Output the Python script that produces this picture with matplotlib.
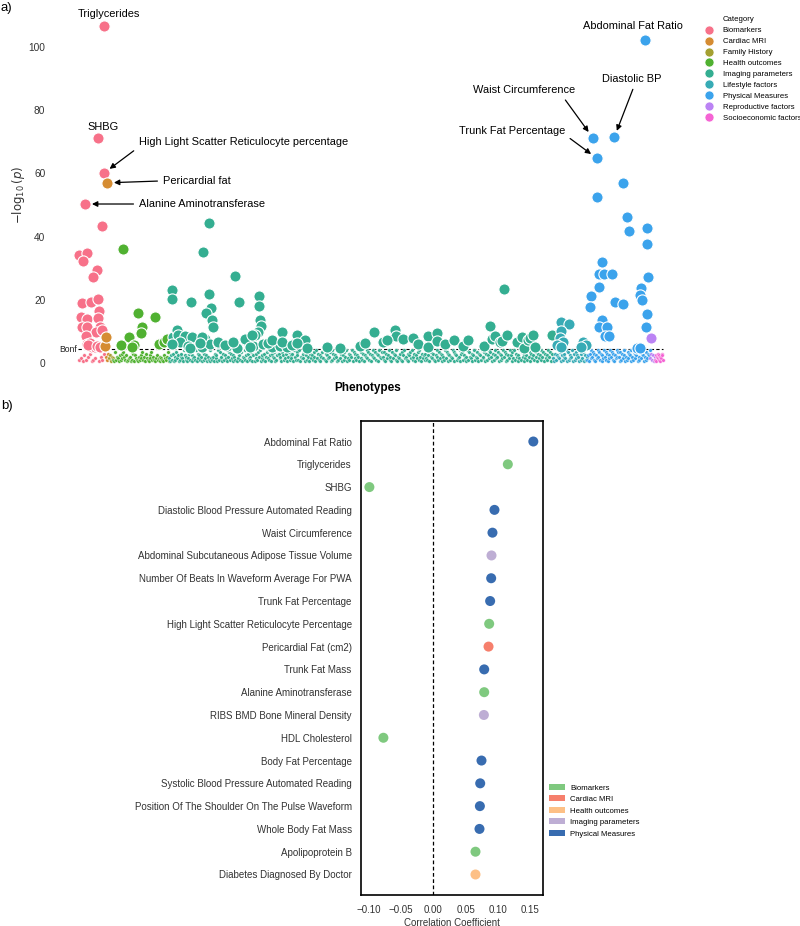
import numpy as np
import matplotlib
matplotlib.use('Agg')
import matplotlib.pyplot as plt
import seaborn as sns
from matplotlib.lines import Line2D
from matplotlib.patches import Patch
from matplotlib.ticker import MultipleLocator

plt.rcParams['font.family'] = ['Liberation Sans', 'DejaVu Sans']

# ---------------- panel a) PheWAS data ----------------
categories = ['Biomarkers', 'Cardiac MRI', 'Family History', 'Health outcomes',
              'Imaging parameters', 'Lifestyle factors', 'Physical Measures',
              'Reproductive factors', 'Socioeconomic factors']
# number of phenotype slots per category (x order)
cat_size = [27, 4, 4, 56, 384, 34, 63, 5, 8]

# sub-threshold phenotypes, each digit = -log10(p) in steps of 0.5
sub_bio = "231524612381426"
sub_cardiac = "4263"
sub_family = "352143"
sub_health = "21724315263742512341726153214253724163215372421352314321532471"
sub_imaging = ("31526142735124631852413627153428163524172635142813"
               "24163518273416253814726351428136527143825163427158"
               "13627481352614738251647312586341752836147253618427"
               "52814363715248163527418362514738261534718263541827"
               "36152748136254817362541837261548372615843726158437"
               "42716358241736528143627158342615738246153728416352"
               "63251847362154827361542837165243817652341867253148"
               "27436158243716528347162583741625834716253847162538"
               "51738264153827461352847163528471635284716352847163")
sub_lifestyle = "3162548371524638172534816273541826371524"
sub_physical = ("2516384726153847261538472615384726153847"
                "4172635814273658142736581427365814273658")
sub_repro = "362514"
sub_socio = "25143625143652"

# significant phenotypes: position on the phenotype axis and -log10(p)
bio_pos = [26, 20, 26, 7, 24, 1, 9, 5, 19, 15, 4, 13, 20, 21, 3, 9, 20, 4, 9, 22,
           18, 24, 8, 9, 11, 14, 12, 17, 10, 19, 22]
bio_logp = [106.7, 71.2, 60.1, 50.3, 43.4, 34.2, 34.7, 32.3, 29.4, 27.3, 18.9, 19.4,
            20.1, 16.6, 14.5, 13.8, 14.3, 11.5, 11.3, 11.3, 9.9, 10.4, 8.5, 6.0,
            5.5, 5.2, 6.2, 5.0, 5.8, 5.4, 5.2]
cardiac_pos = [27.3, 28, 29]
cardiac_logp = [5.5, 8.3, 57.0]
health_pos = [44.7, 59.7, 63.7, 62.7, 51.3, 77.3, 43, 56, 54, 81.3, 86, 88.7]
health_logp = [36.2, 15.9, 11.5, 9.6, 8.1, 14.6, 5.7, 5.7, 5.2, 6.0, 6.7, 7.5]
imaging_pos = [93.7, 93.7, 112.7, 130.7, 125, 130.7, 156.7, 160.7, 181.3, 181.3, 133,
               128, 133.7, 135.3, 182, 182.7, 180.3,
               95.3, 98.7, 100.3, 107, 113.7, 102, 93.7, 110, 112, 123.7, 127, 132,
               140, 148.7, 155, 158.7, 167, 173.7, 177, 175, 185, 192, 194, 203.7,
               202, 208.7, 218.7, 215, 227, 228.7,
               248.7, 262, 282, 287, 296.3, 305, 310, 317, 318, 308.7, 325.3, 334.7,
               340.3, 350, 350, 358.7, 359.3, 367, 376, 384.7, 390, 406, 412, 413.7,
               417, 422, 424, 429.3, 438.7, 443.7, 446, 450, 452, 455.3, 457, 426, 473.7,
               123.7, 122, 140.3, 147, 155.3, 167, 173.7, 172, 190.3, 193.7, 203.7,
               213.7, 218.7]
imaging_logp = [23.1, 20.3, 19.3, 44.2, 35.2, 21.9, 27.4, 19.4, 21.1, 18.0, 17.3, 15.7,
                13.6, 11.5, 13.6, 11.7, 9.9,
                8.3, 10.4, 9.0, 8.5, 8.3, 6.5, 6.0, 5.5, 4.7, 5.1, 7.5, 6.0, 6.4, 5.4,
                6.5, 4.8, 7.3, 8.5, 9.0, 5.5, 6.0, 6.5, 5.0, 9.9, 5.5, 5.0, 8.9, 6.0,
                7.3, 4.8,
                5.2, 4.8, 5.5, 6.2, 9.9, 6.5, 7.2, 10.4, 8.5, 7.2, 7.5, 8.0, 6.0, 8.5,
                5.0, 9.5, 7.0, 6.0, 7.3, 5.5, 7.3, 5.5, 11.8, 7.7, 8.5, 6.5, 7.0, 9.0,
                6.5, 8.2, 4.7, 7.2, 8.0, 8.8, 5.2, 23.4, 8.9,
                8.3, 6.2, 6.7, 5.7, 6.7, 7.5, 8.9, 5.2, 6.2, 7.3, 6.7, 5.7, 6.2]
lifestyle_pos = [482.7, 491.3, 482.7, 482, 485, 479, 483, 505, 508, 503]
lifestyle_logp = [13.1, 12.2, 10.2, 8.0, 6.7, 5.8, 5.0, 6.7, 5.7, 5.2]
physical_pos = [567, 514.7, 536.3, 518.7, 544.7, 519.3, 549.3, 551, 568.7, 569.3, 524.3,
                521.3, 526.3, 533.7, 570.3, 521, 563, 513, 562, 563.7, 512, 537, 545.3,
                523.7, 521.3, 528.7, 527, 531, 569.3, 568, 558.7, 562]
physical_logp = [102.2, 71.3, 71.4, 64.8, 57.1, 52.4, 46.3, 41.9, 42.8, 37.7, 31.9, 28.2,
                 28.2, 28.2, 27.1, 24.0, 23.6, 21.3, 21.5, 19.9, 17.8, 19.4, 18.7, 13.6,
                 11.3, 11.3, 8.5, 8.5, 15.6, 11.3, 4.6, 4.6]
repro_pos = [573]
repro_logp = [8.0]

bonf = 4.4

sub_all = [sub_bio, sub_cardiac, sub_family, sub_health, sub_imaging,
           sub_lifestyle, sub_physical, sub_repro, sub_socio]
hit_pos = [bio_pos, cardiac_pos, [], health_pos, imaging_pos, lifestyle_pos,
           physical_pos, repro_pos, []]
hit_logp = [bio_logp, cardiac_logp, [], health_logp, imaging_logp, lifestyle_logp,
            physical_logp, repro_logp, []]

# ---------------- panel b) correlation data ----------------
phenos = ['Abdominal Fat Ratio', 'Triglycerides', 'SHBG',
          'Diastolic Blood Pressure Automated Reading', 'Waist Circumference',
          'Abdominal Subcutaneous Adipose Tissue Volume',
          'Number Of Beats In Waveform Average For PWA', 'Trunk Fat Percentage',
          'High Light Scatter Reticulocyte Percentage', 'Pericardial Fat (cm2)',
          'Trunk Fat Mass', 'Alanine Aminotransferase', 'RIBS BMD Bone Mineral Density',
          'HDL Cholesterol', 'Body Fat Percentage',
          'Systolic Blood Pressure Automated Reading',
          'Position Of The Shoulder On The Pulse Waveform', 'Whole Body Fat Mass',
          'Apolipoprotein B', 'Diabetes Diagnosed By Doctor']
corr = [0.155, 0.1155, -0.099, 0.0948, 0.0917, 0.0902, 0.0897, 0.0881, 0.0866, 0.0856,
        0.0789, 0.0789, 0.0784, -0.0773, 0.0747, 0.0727, 0.0722, 0.0716, 0.0654, 0.0654]
pheno_cat = ['Physical Measures', 'Biomarkers', 'Biomarkers', 'Physical Measures',
             'Physical Measures', 'Imaging parameters', 'Physical Measures',
             'Physical Measures', 'Biomarkers', 'Cardiac MRI', 'Physical Measures',
             'Biomarkers', 'Imaging parameters', 'Biomarkers', 'Physical Measures',
             'Physical Measures', 'Physical Measures', 'Physical Measures',
             'Biomarkers', 'Health outcomes']
b_cats = ['Biomarkers', 'Cardiac MRI', 'Health outcomes', 'Imaging parameters',
          'Physical Measures']
b_colors = ['#7fc97f', '#f67f6c', '#fdc086', '#beaed4', '#386cb0']

# ---------------- figure ----------------
W, H = 800, 926
fig = plt.figure(figsize=(W / 100, H / 100), dpi=100)
palette = sns.color_palette('husl', 9)

ax = fig.add_axes([55 / W, 1 - 375 / H, 625 / W, 360 / H])
start = 0
for i, cat in enumerate(categories):
    n = len(sub_all[i])
    xs = start + (np.arange(n) + 0.5) * cat_size[i] / n
    ys = np.array([int(c) for c in sub_all[i]]) / 2.0
    ax.scatter(xs, ys, s=7, color=palette[i], edgecolor='white', linewidth=0.3, zorder=2)
    if hit_pos[i]:
        ax.scatter(hit_pos[i], hit_logp[i], s=65, color=palette[i], edgecolor='white',
                   linewidth=0.8, zorder=3)
    start += cat_size[i]
n_total = start

ax.hlines(bonf, 0, n_total, colors='black', linestyles=(0, (3, 2)), lw=0.8, zorder=1)
ax.text(-0.5, bonf, 'Bonf', ha='right', va='center', fontsize=6.2, color='#222222')

ax.set_xlim(-23, 602)
ax.set_ylim(-3.8, 110.1)
ax.set_xticks([])
ax.set_yticks([0, 20, 40, 60, 80, 100])
ax.tick_params(axis='y', length=0, pad=7, labelsize=7.3, labelcolor='#333333')
for s in ax.spines.values():
    s.set_visible(False)
ax.set_ylabel(r'$-\log_{10}(p)$', fontsize=8.5, color='#333333', labelpad=1)
ax.set_xlabel('Phenotypes', fontsize=8.5, fontweight='bold', labelpad=5)

arrow = dict(arrowstyle='-|>', color='black', lw=0.9, mutation_scale=8)
notes = [
    ('Triglycerides', bio_pos[0], bio_logp[0], (3.4, 8.2), 'center', None),
    ('SHBG', bio_pos[1], bio_logp[1], (3.6, 7.9), 'center', None),
    ('High Light Scatter Reticulocyte percentage', bio_pos[2], bio_logp[2], (25, 22.3),
     'left', (0.0, 0.0)),
    ('Pericardial fat', cardiac_pos[2], cardiac_logp[2], (40.3, 1.4), 'left', (0.0, 0.5)),
    ('Alanine Aminotransferase', bio_pos[3], bio_logp[3], (38.9, 0), 'left', (0.0, 0.5)),
    ('Abdominal Fat Ratio', physical_pos[0], physical_logp[0], (-8.6, 10.1), 'center', None),
    ('Waist Circumference', physical_pos[1], physical_logp[1], (-49.5, 34.3), 'center',
     (0.87, 0.0)),
    ('Diastolic BP', physical_pos[2], physical_logp[2], (12.7, 42), 'center', (0.55, 0.0)),
    ('Trunk Fat Percentage', physical_pos[3], physical_logp[3], (-61, 19.7), 'center',
     (1.0, 0.1)),
]
for label, x, y, off, ha, rel in notes:
    if rel is None:
        ax.annotate(label, xy=(x, y), xytext=off, textcoords='offset points',
                    ha=ha, va='center', fontsize=7.9)
    else:
        ap = dict(arrow, relpos=rel, shrinkA=2, shrinkB=5)
        ax.annotate(label, xy=(x, y), xytext=off, textcoords='offset points',
                    ha=ha, va='center', fontsize=7.9, arrowprops=ap)

handles = [Line2D([], [], linestyle='none')]
handles += [Line2D([], [], marker='o', linestyle='none', markersize=6.5,
                   markerfacecolor=c, markeredgecolor='white', markeredgewidth=0.5)
            for c in palette]
fig.legend(handles, ['Category'] + categories, loc='upper left',
           bbox_to_anchor=(705 / W, 1 - 16 / H), frameon=False, fontsize=5.6,
           handlelength=1.0, handletextpad=1.26, labelspacing=0.45,
           borderpad=0, borderaxespad=0)

fig.text(0.001, 1 - 8 / H, 'a)', fontsize=9.5, va='center', ha='left')

# ---------------- panel b ----------------
bx = fig.add_axes([361 / W, 1 - 895 / H, 182 / W, 474 / H])
rows = np.arange(len(phenos))
cols = [b_colors[b_cats.index(c)] for c in pheno_cat]
bx.scatter(corr, rows, c=cols, s=52, linewidths=0, zorder=3)
bx.axvline(0, color='black', linestyle=(0, (3, 2)), lw=0.9, zorder=1)
bx.set_xlim(-0.112, 0.170)
bx.set_ylim(len(phenos) - 0.1, -0.9)
bx.set_yticks(rows)
bx.set_yticklabels(phenos)
bx.xaxis.set_major_locator(MultipleLocator(0.05))
bx.tick_params(axis='y', length=0, pad=6.7, labelsize=7, labelcolor='#333333')
bx.tick_params(axis='x', length=0, pad=7, labelsize=7, labelcolor='#333333')
for s in bx.spines.values():
    s.set_linewidth(1.2)
    s.set_color('black')
bx.set_xlabel('Correlation Coefficient', fontsize=7, color='#333333', labelpad=2)

bh = [Patch(facecolor=c, edgecolor='none') for c in b_colors]
fig.legend(bh, b_cats, loc='upper left', bbox_to_anchor=(549 / W, 1 - 784 / H),
           frameon=False, fontsize=5.6, handlelength=2.05, handleheight=0.77,
           handletextpad=0.64, labelspacing=0.5, borderpad=0, borderaxespad=0)

fig.text(0.001, 1 - 406 / H, 'b)', fontsize=9.5, va='center', ha='left')

fig.savefig('out.png', dpi=100)
